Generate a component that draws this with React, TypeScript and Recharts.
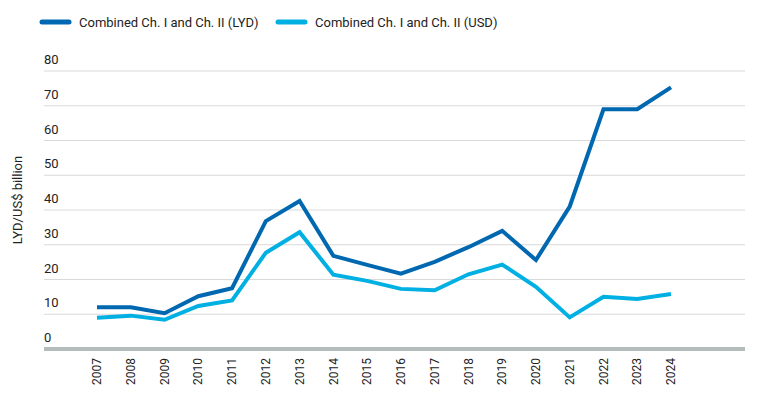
import { LineChart, Line, XAxis, YAxis, CartesianGrid } from "recharts";

const years = ["2007", "2008", "2009", "2010", "2011", "2012", "2013", "2014", "2015", "2016", "2017", "2018", "2019", "2020", "2021", "2022", "2023", "2024"];
const lyd = [12, 12, 10.3, 15.2, 17.5, 36.8, 42.6, 26.8, 24.2, 21.7, 25.1, 29.3, 34, 25.6, 41, 69, 69, 75.3];
const usd = [9, 9.6, 8.4, 12.4, 14, 27.7, 33.6, 21.4, 19.6, 17.3, 16.9, 21.5, 24.3, 17.9, 9.1, 15, 14.4, 15.8];
const yTicks = [0, 10, 20, 30, 40, 50, 60, 70, 80];

const series = [
    { key: "lyd", name: "Combined Ch. I and Ch. II (LYD)", color: "#0068b0" },
    { key: "usd", name: "Combined Ch. I and Ch. II (USD)", color: "#00b0e2" },
];

const data = years.map((y, i) => ({ year: y, lyd: lyd[i], usd: usd[i] }));

const FONT = "Roboto, sans-serif";

function YTick({ y, payload }: any) {
    return (
        <text x={44} y={y - 7} fontSize={13} fontFamily={FONT} fill="#222" textAnchor="start">
            {payload.value}
        </text>
    );
}

function XTick({ x, y, payload }: any) {
    const ty = y + 1;
    return (
        <text
            x={x}
            y={ty}
            transform={`rotate(-90, ${x}, ${ty})`}
            textAnchor="end"
            dy="0.35em"
            fontSize={12}
            fontFamily={FONT}
            fill="#222"
        >
            {payload.value}
        </text>
    );
}

function LegendBox() {
    return (
        <svg width={560} height={40} style={{ position: "absolute", left: 0, top: 0 }}>
            {series.map((s, i) => {
                const x0 = 42 + i * 236;
                return (
                    <g key={s.key}>
                        <line x1={x0} y1={22} x2={x0 + 27} y2={22} stroke={s.color} strokeWidth={5} strokeLinecap="round" />
                        <text x={x0 + 37} y={26.5} fontSize={13} fontFamily={FONT} fill="#222">
                            {s.name}
                        </text>
                    </g>
                );
            })}
        </svg>
    );
}

function YLabel() {
    return (
        <text
            x={17}
            y={200}
            transform="rotate(-90, 17, 200)"
            textAnchor="middle"
            dy="0.35em"
            fontSize={13}
            fontFamily={FONT}
            fill="#222"
        >
            LYD/US$ billion
        </text>
    );
}

export default function App() {
    return (
        <div style={{ position: "absolute", left: 0, top: 0, width: 764, height: 407, background: "#fff" }}>
            <LineChart width={764} height={407} data={data} margin={{ top: 71, right: 19, bottom: 0, left: 4 }}>
                <CartesianGrid vertical={false} stroke="#d9d9d9" strokeWidth={1} />
                <XAxis
                    dataKey="year"
                    height={58}
                    interval={0}
                    padding={{ left: 53, right: 74 }}
                    axisLine={{ stroke: "#b4bcbc", strokeWidth: 4 }}
                    tickLine={false}
                    tick={<XTick />}
                />
                <YAxis
                    width={40}
                    domain={[0, 80]}
                    ticks={yTicks}
                    axisLine={false}
                    tickLine={false}
                    tick={<YTick />}
                    label={{ content: () => <YLabel /> }}
                />
                {series.map((s) => (
                    <Line
                        key={s.key}
                        dataKey={s.key}
                        name={s.name}
                        stroke={s.color}
                        strokeWidth={4}
                        dot={false}
                        activeDot={false}
                        type="linear"
                        isAnimationActive={false}
                    />
                ))}
            </LineChart>
            <LegendBox />
        </div>
    );
}
